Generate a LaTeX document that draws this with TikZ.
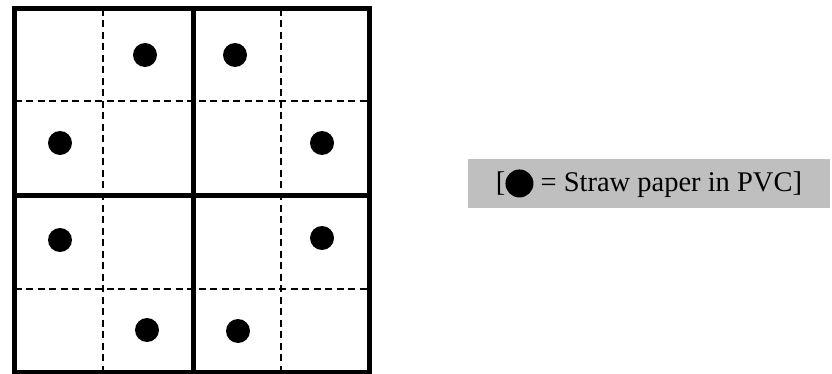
\documentclass[tikz,border=0pt]{standalone}
\usepackage{fontspec}
\setmainfont{Liberation Serif}
\begin{document}
\begin{tikzpicture}[x=1pt,y=-1pt,
  thickline/.style={line width=5pt,line cap=rect},
  dashline/.style={line width=2.8pt,dash pattern=on 7pt off 4.5pt},
  dot/.style={circle,fill=black,inner sep=0pt,minimum size=24pt},
  legend/.style={fill=black!25,inner sep=0pt,minimum width=362pt,minimum height=49pt,font=\fontsize{28.5}{32}\selectfont}]
\useasboundingbox (0,0) rectangle (832,374);
% dashed inner lines
\draw[dashline] (103,9) -- (103,372);
\draw[dashline] (281,9) -- (281,372);
\draw[dashline] (14.5,101) -- (369.5,101);
\draw[dashline] (14.5,289) -- (369.5,289);
% thick lines
\draw[thickline] (193,9) -- (193,372);
\draw[thickline] (14.5,196) -- (369.5,196);
\draw[thickline] (14.5,9) rectangle (369.5,372);
% dots
\node[dot] (d1) at (145,55) {};
\node[dot] (d2) at (235,55) {};
\node[dot] (d3) at (60,143) {};
\node[dot] (d4) at (322,143) {};
\node[dot] (d5) at (60,240) {};
\node[dot] (d6) at (322,238) {};
\node[dot] (d7) at (147,330) {};
\node[dot] (d8) at (238,331) {};
% legend
\node[legend] (leg) at (649,183.5) {[\tikz[baseline=-8pt]\fill (0,0) circle (14pt); = Straw paper in PVC]};
\end{tikzpicture}
\end{document}
